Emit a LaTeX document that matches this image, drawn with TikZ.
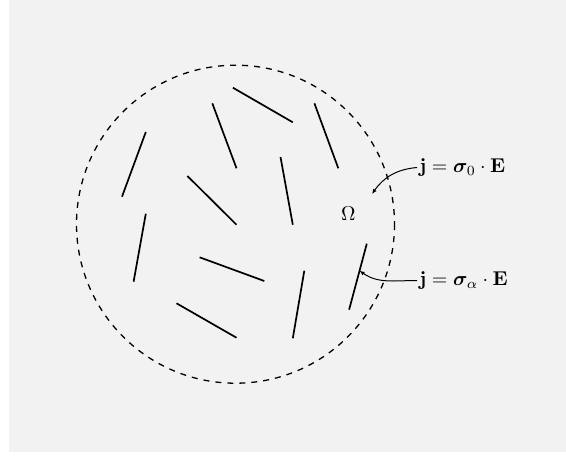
\documentclass[tikz,border=0pt]{standalone}
\usepackage{bm}
\usepackage{xcolor}
\usepackage{tikz}
\usetikzlibrary{arrows.meta,calc}
\definecolor{bggray}{RGB}{242,242,242}
\tikzset{
  fibre/.style={line width=0.85pt},
  boundary/.style={dashed, line width=0.65pt},
  law/.style={inner sep=1pt, anchor=base west},
  ar/.style={-{Latex[length=2.5pt,width=2.1pt]}, line width=0.5pt},
}
\begin{document}
\begin{tikzpicture}[x=0.5pt, y=-0.5pt]
  \useasboundingbox (0,0) rectangle (566,455);
  \fill[bggray] (9,0) rectangle (566,452);
  % matrix domain
  \coordinate (ctr) at (235.5,224.2);
  \draw[boundary] (ctr) circle[radius=159];
  % fibres
  \draw[fibre] (145.8,132) -- (122,196.7);
  \draw[fibre] (212.3,103.3) -- (236.5,168.3);
  \draw[fibre] (232.9,87.7) -- (292.8,122.3);
  \draw[fibre] (314.4,103.3) -- (338.3,168.3);
  \draw[fibre] (187.4,176) -- (236.5,224.7);
  \draw[fibre] (280.5,157) -- (292.8,224.7);
  \draw[fibre] (145.8,213.7) -- (133.6,281.7);
  \draw[fibre] (199.6,257.3) -- (264.3,281);
  \draw[fibre] (176.5,303.3) -- (236.5,337.7);
  \draw[fibre] (304.3,270.7) -- (292.8,338.3);
  \coordinate (f11a) at (366.8,243.7);
  \coordinate (f11b) at (349.1,309.7);
  \draw[fibre] (f11a) -- (f11b);
  % labels
  \node (omega) at (348.4,213.3) {$\Omega$};
  \node[law] (law0) at (417,172.5) {$\mathbf{j}=\bm{\sigma}_0\cdot\mathbf{E}$};
  \node[law] (lawa) at (417,285.5) {$\mathbf{j}=\bm{\sigma}_\alpha\cdot\mathbf{E}$};
  \coordinate (tip0) at (372,194);
  \coordinate (tipa) at ($(f11a)!0.41!(f11b)$);
  \draw[ar] (law0.west) to[out=185,in=55] (tip0);
  \draw[ar] (lawa.west) to[out=180,in=-35] (tipa);
\end{tikzpicture}
\end{document}
